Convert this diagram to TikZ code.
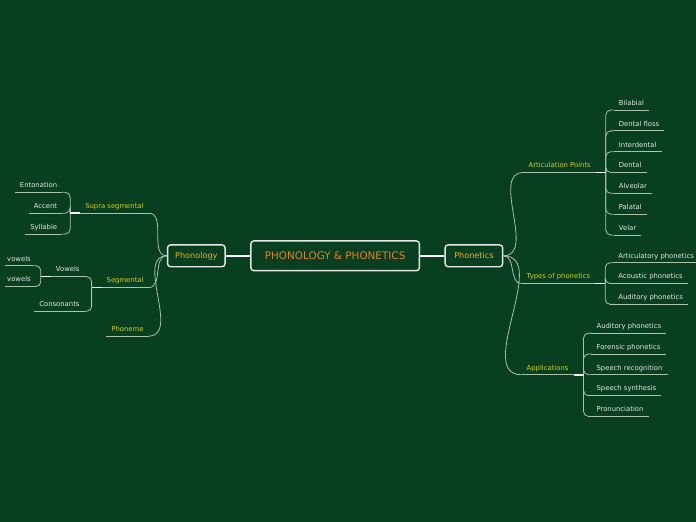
\documentclass[tikz,border=0pt]{standalone}
\usepackage{fontspec}
\setmainfont{DejaVu Sans}
\usetikzlibrary{positioning,calc}
\definecolor{board}{HTML}{073F20}
\definecolor{branch}{HTML}{A9C2AA}
\definecolor{title}{HTML}{E8801E}
\definecolor{gold}{HTML}{E8B400}
\definecolor{lemon}{HTML}{D8D000}
\definecolor{leaf}{HTML}{E4E8E4}

\begin{document}
\begin{tikzpicture}[x=1pt,y=-1pt,
  box/.style={draw=leaf,line width=1.4pt,rounded corners=3pt,fill=board},
  line/.style={draw=branch,line width=0.8pt},
  stub/.style={draw=white,line width=1.6pt},
  topic/.style={text=lemon,font=\fontsize{6.9}{8}\selectfont,inner xsep=5pt,inner ysep=2.5pt,
    text height=5pt,text depth=2pt,
    append after command={(\tikzlastnode.south west) edge[line] (\tikzlastnode.south east)}},
  sub/.style={topic,text=leaf}]
\fill[board] (-3,-3) rectangle (699,523);
\useasboundingbox (0,0) rectangle (696,520);

\node[box,minimum width=170pt,minimum height=30pt,text=title,font=\fontsize{10.5}{12}\selectfont] (main) at (335,255) {PHONOLOGY \& PHONETICS};
\node[box,minimum width=58pt,minimum height=22pt,text=gold,font=\fontsize{8.2}{9}\selectfont] (phonology) at (195,255) {Phonology};
\node[box,minimum width=58pt,minimum height=22pt,text=gold,font=\fontsize{8.2}{9}\selectfont] (phonetics) at (475,255) {Phonetics};
\draw[stub,line width=2pt] (phonology) -- (main);
\draw[stub,line width=2pt] (main) -- (phonetics);

% phonology side
\node[topic,anchor=south east] (supra) at (147,212) {Supra segmental};
\node[topic,anchor=south east] (segm) at (147,287) {Segmental};
\node[topic,anchor=south east] (phon) at (147,336) {Phoneme};
\foreach \k in {supra,segm,phon}
  \draw[line] (phonology.west) to[out=180,in=0] (\k.south east);

\coordinate (supra-b) at ($(supra.south west)+(-10,0)$);
\coordinate (supra-x) at ($(supra-b)+(-8,0)$);
\foreach \n/\t/\y in {1/Entonation/191,2/Accent/212,3/Syllable/233}{
  \node[sub,anchor=south east] (supra\n) at (supra-x |- 0,\y) {\t};
  \draw[line,rounded corners=5pt] (supra-b) |- (supra\n.south east);
}
\draw[stub] (supra.south west) -- (supra-b);

\coordinate (segm-b) at ($(segm.south west)+(-10,0)$);
\coordinate (segm-x) at ($(segm-b)+(-7,0)$);
\node[sub,anchor=south east] (vow) at (segm-x |- 0,276) {Vowels};
\node[sub,anchor=south east] (cons) at (segm-x |- 0,311) {Consonants};
\foreach \k in {vow,cons}
  \draw[line,rounded corners=5pt] (segm-b) |- (\k.south east);
\draw[stub] (segm.south west) -- (segm-b);

\coordinate (vow-b) at ($(vow.south west)+(-10,0)$);
\coordinate (vow-x) at ($(vow-b)+(-8,0)$);
\foreach \n/\y in {1/265,2/286}{
  \node[sub,anchor=south east,inner xsep=2pt] (vow\n) at (vow-x |- 0,\y) {vowels};
  \draw[line,rounded corners=5pt] (vow-b) |- (vow\n.south east);
}
\draw[stub] (vow.south west) -- (vow-b);

% phonetics side
\node[topic,anchor=south west] (artic) at (525,171) {Articulation Points};
\node[topic,anchor=south west] (types) at (523,283) {Types of phonetics};
\node[topic,anchor=south west] (appl) at (523,375) {Applications};
\foreach \k in {artic,types,appl}
  \draw[line] (phonetics.east) to[out=0,in=180] (\k.south west);

\coordinate (artic-b) at ($(artic.south east)+(10,0)$);
\coordinate (artic-x) at ($(artic-b)+(8,0)$);
\foreach \n/\t/\y in {1/Bilabial/108,2/Dental floss/129,3/Interdental/150,4/Dental/171,5/Alveolar/192,6/Palatal/213,7/Velar/234}{
  \node[sub,anchor=south west] (artic\n) at (artic-x |- 0,\y) {\t};
  \draw[line,rounded corners=5pt] (artic-b) |- (artic\n.south west);
}
\draw[stub] (artic.south east) -- (artic-b);

\coordinate (types-b) at ($(types.south east)+(10,0)$);
\coordinate (types-x) at ($(types-b)+(8,0)$);
\foreach \n/\t/\y in {1/Articulatory phonetics/262,2/Acoustic phonetics/283,3/Auditory phonetics/304}{
  \node[sub,anchor=south west] (types\n) at (types-x |- 0,\y) {\t};
  \draw[line,rounded corners=5pt] (types-b) |- (types\n.south west);
}
\draw[stub] (types.south east) -- (types-b);

\coordinate (appl-b) at ($(appl.south east)+(10,0)$);
\coordinate (appl-x) at ($(appl-b)+(8,0)$);
\foreach \n/\t/\y in {1/Auditory phonetics/333,2/Forensic phonetics/354,3/Speech recognition/375,4/Speech synthesis/396,5/Pronunciation/417}{
  \node[sub,anchor=south west] (appl\n) at (appl-x |- 0,\y) {\t};
  \draw[line,rounded corners=5pt] (appl-b) |- (appl\n.south west);
}
\draw[stub] (appl.south east) -- (appl-b);
\end{tikzpicture}
\end{document}
